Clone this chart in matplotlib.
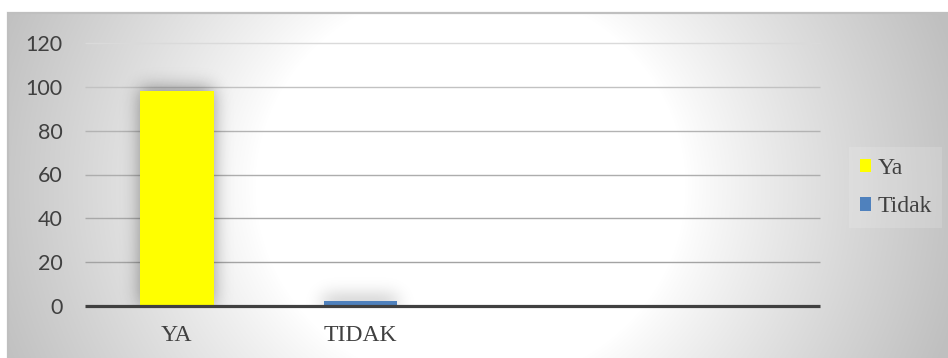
import numpy as np
import matplotlib
matplotlib.use("Agg")
import matplotlib.pyplot as plt
from matplotlib.patches import Patch, Rectangle

# ---- data ----
categories = ["YA", "TIDAK", "", ""]
series_names = ["Ya", "Tidak"]
ya_values = [98, 0, 0, 0]
tidak_values = [0, 2, 0, 0]
y_ticks = [0, 20, 40, 60, 80, 100, 120]

W_PX, H_PX = 948, 358
DPI = 100
fig = plt.figure(figsize=(W_PX / DPI, H_PX / DPI), dpi=DPI)
fig.patch.set_facecolor("white")

# ---- chart-area background (radial gradient) ----
cx0, cy_top = 8, 13  # chart area left / top in px
bg = fig.add_axes([cx0 / W_PX, 0, 1 - cx0 / W_PX, (H_PX - cy_top) / H_PX], zorder=-5)
bw, bh = W_PX - cx0, H_PX - cy_top
xx, yy = np.meshgrid(np.arange(bw) + cx0, np.arange(bh) + cy_top)
r = np.sqrt((xx - 470.0) ** 2 + ((yy - 186.0) * 1.07) ** 2)
t = np.clip((r - 215.0) / (290.0), 0, 1) ** 0.9
val = 1.0 - t * (1.0 - 0.75)
bg.imshow(np.dstack([val, val, val]), aspect="auto", extent=(0, 1, 0, 1), origin="upper")
bg.set_axis_off()

# border
fig.add_artist(Rectangle((cx0 / W_PX, -0.01), 1.0, (H_PX - cy_top) / H_PX + 0.01,
                         transform=fig.transFigure, fill=False,
                         edgecolor="#bfbfbf", linewidth=1.6))

# ---- main axes ----
left, right = 85 / W_PX, 819.7 / W_PX
bottom, top = (H_PX - 305.7) / H_PX, (H_PX - 43.3) / H_PX
ax = fig.add_axes([left, bottom, right - left, top - bottom])
ax.set_facecolor("none")

x = np.arange(len(categories))
bar_w = 0.4
ax.set_xlim(-0.5, len(categories) - 0.5)
ax.set_ylim(0, 120)

# gridlines (darker toward bottom, like the reference)
grid_cols = {20: "#a3a3a3", 40: "#a8a8a8", 60: "#adadad", 80: "#b3b3b3", 100: "#c2c2c2", 120: "#dadada"}
for yv in y_ticks[1:]:
    ax.axhline(yv, color=grid_cols[yv], lw=1.0, zorder=0.5, clip_on=False, solid_capstyle="butt")

# soft shadow behind bars
axw, axh = int(round(819.7 - 85)), int(round(305.7 - 43.3))
mask = np.zeros((axh, axw))
def to_px_x(v):
    return (v + 0.5) / len(categories) * axw
def to_px_y(v):
    return v / 120.0 * axh
for vals in (ya_values, tidak_values):
    for i, v in enumerate(vals):
        if v > 0:
            x0, x1 = int(to_px_x(i - bar_w / 2)), int(to_px_x(i + bar_w / 2))
            y1 = int(to_px_y(v)) + 4
            mask[0:y1, x0:x1] = 1.0
sig = 9.0
k = np.arange(-30, 31)
kern = np.exp(-0.5 * (k / sig) ** 2)
kern /= kern.sum()
blur = np.array([np.convolve(row, kern, mode="same") for row in mask])
blur = np.array([np.convolve(col, kern, mode="same") for col in blur.T]).T
shadow = np.zeros((axh, axw, 4))
shadow[..., 3] = blur * 0.4
ax.imshow(shadow, extent=(-0.5, len(categories) - 0.5, 0, 120), origin="lower",
          aspect="auto", zorder=1, interpolation="bilinear")

ax.bar(x, ya_values, width=bar_w, color="#ffff00", zorder=2, label=series_names[0])
ax.bar(x, tidak_values, width=bar_w, color="#4f81bd", zorder=2, label=series_names[1])

# axis line
ax.axhline(0, color="#404040", lw=2.3, zorder=3, clip_on=False, solid_capstyle="butt")

for s in ax.spines.values():
    s.set_visible(False)

ax.set_yticks(y_ticks)
ax.set_yticklabels([str(v) for v in y_ticks], fontfamily="Lato", fontsize=15.5, color="#404040")
ax.set_xticks(x)
ax.set_xticklabels(categories, fontfamily="Liberation Serif", fontsize=17, color="#404040")
ax.tick_params(axis="y", length=0, pad=16)
ax.tick_params(axis="x", length=0, pad=14)
ax.grid(False)

# legend
handles = [Patch(facecolor="#ffff00", edgecolor="none"), Patch(facecolor="#4f81bd", edgecolor="none")]
leg = fig.legend(handles, series_names, loc="upper left",
                 bbox_to_anchor=(849 / W_PX, 1 - 147 / H_PX),
                 prop={"family": "Liberation Serif", "size": 17},
                 handlelength=0.5, handleheight=0.5, handletextpad=0.25,
                 labelspacing=0.75, borderpad=0.45, borderaxespad=0,
                 frameon=True, fancybox=False)
leg.get_frame().set_facecolor("white")
leg.get_frame().set_alpha(0.15)
leg.get_frame().set_edgecolor("none")
for txt in leg.get_texts():
    txt.set_color("#404040")

fig.savefig("out.png", dpi=DPI)
